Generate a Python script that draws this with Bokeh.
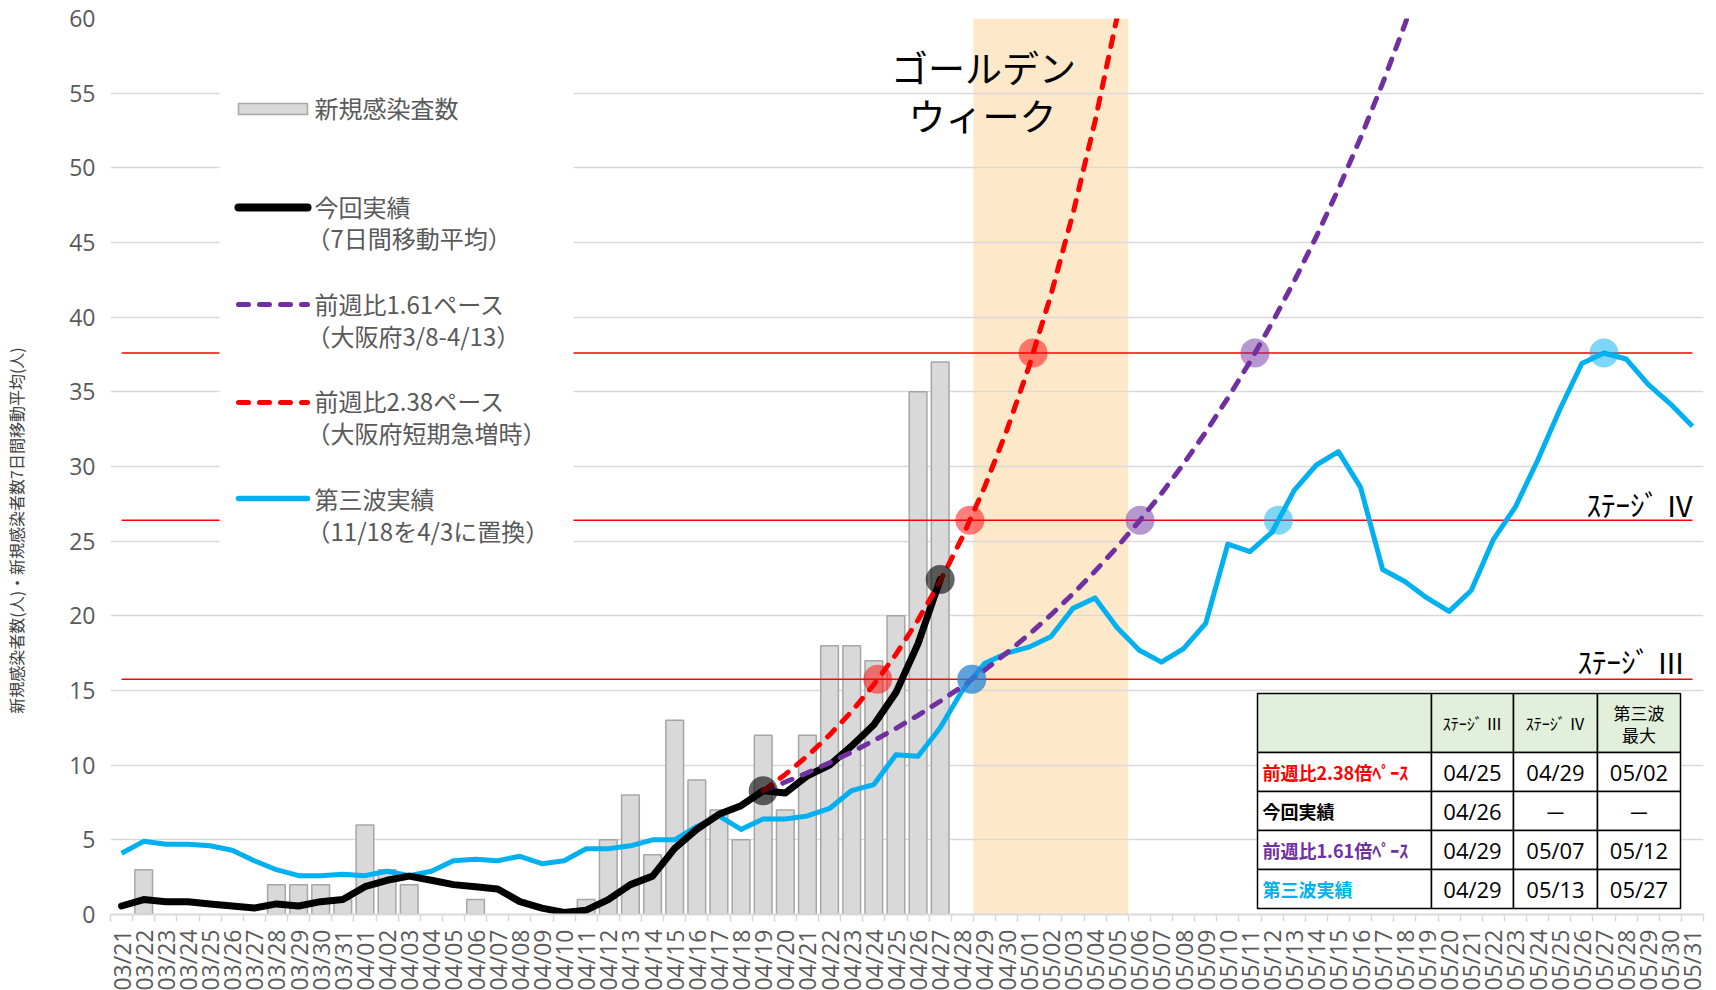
import numpy as np
from math import pi
from bokeh.plotting import figure
from bokeh.models import FixedTicker, Range1d, Label
from bokeh.embed import file_html
from bokeh.resources import INLINE

# ---------------- data ----------------
dates = ([f"03/{d:02d}" for d in range(21, 32)]
         + [f"04/{d:02d}" for d in range(1, 31)]
         + [f"05/{d:02d}" for d in range(1, 32)])

# daily new cases 03/21 .. 04/27
new_cases = [0, 3, 0, 0, 0, 0, 0, 2, 2, 2, 1, 6, 3, 2, 0, 0, 1, 0, 0, 0,
             0, 1, 5, 8, 4, 13, 9, 7, 5, 12, 7, 12, 18, 18, 17, 20, 35, 37]

# 7-day moving average (今回実績) 03/21 .. 04/27
current_avg = [0.57, 1.00, 0.86, 0.86, 0.71, 0.57, 0.43, 0.71, 0.57, 0.86,
               1.00, 1.86, 2.29, 2.57, 2.29, 2.00, 1.86, 1.71, 0.86, 0.43,
               0.14, 0.29, 1.00, 2.00, 2.57, 4.43, 5.71, 6.71, 7.29, 8.29,
               8.14, 9.29, 10.00, 11.29, 12.71, 14.86, 18.14, 22.43]

# projection 前週比2.38 from 04/19 .. 05/06
pace_238_start = "04/19"
pace_238 = [8.29, 9.38, 10.62, 12.02, 13.60, 15.39, 17.42, 19.72, 22.32,
            25.26, 28.60, 32.37, 36.63, 41.47, 46.93, 53.12, 60.13, 68.06]

# projection 前週比1.61 from 04/19 .. 05/19
pace_161_start = "04/19"
pace_161 = [8.29, 8.87, 9.49, 10.16, 10.88, 11.64, 12.46, 13.34, 14.28, 15.28,
            16.36, 17.51, 18.74, 20.06, 21.48, 22.99, 24.61, 26.34, 28.19, 30.18,
            32.30, 34.58, 37.01, 39.62, 42.41, 45.39, 48.59, 52.01, 55.67, 59.59,
            63.78]

# third wave (shifted) 03/21 .. 05/31
third_wave = [4.1, 4.9, 4.7, 4.7, 4.6, 4.3, 3.6, 3.0, 2.6, 2.6,
              2.7, 2.6, 2.9, 2.6, 2.9, 3.6, 3.7, 3.6, 3.9, 3.4,
              3.6, 4.4, 4.4, 4.6, 5.0, 5.0, 5.9, 6.6, 5.7, 6.4,
              6.4, 6.6, 7.1, 8.3, 8.7, 10.7, 10.6, 12.5, 15.0, 16.8,
              17.5, 17.9, 18.6, 20.5, 21.2, 19.2, 17.7, 16.9, 17.8, 19.5,
              24.8, 24.3, 25.6, 28.4, 30.1, 31.0, 28.6, 23.1, 22.3, 21.2,
              20.3, 21.7, 25.1, 27.3, 30.4, 33.8, 36.9, 37.6, 37.2, 35.5,
              34.2, 32.7]

thresholds = [15.75, 26.4, 37.6]          # ステージⅢ, ステージⅣ, 第三波最大
stage_names = ["ｽﾃｰｼﾞ Ⅲ", "ｽﾃｰｼﾞ Ⅳ"]
gw_start, gw_end = "04/29", "05/05"
black_marker_dates = ["04/19", "04/27"]

tbl_header = ["", "ｽﾃｰｼﾞ Ⅲ", "ｽﾃｰｼﾞ Ⅳ", "第三波\n最大"]
tbl_rows = ["前週比2.38倍ﾍﾟｰｽ", "今回実績", "前週比1.61倍ﾍﾟｰｽ", "第三波実績"]
tbl_colors = ["#FF0000", "#000000", "#7030A0", "#00B0F0"]
tbl_stage3 = ["04/25", "04/26", "04/29", "04/29"]
tbl_stage4 = ["04/29", "－", "05/07", "05/13"]
tbl_max = ["05/02", "－", "05/12", "05/27"]

y_title = "新規感染者数(人)・新規感染者数7日間移動平均(人)"

# ---------------- geometry ----------------
FL, FR, FT, FB = 110, 1703, 18, 914      # frame edges in page pixels
N = len(dates)
YMAX = 60


def dx(px):
    return -0.5 + (px - FL) / (FR - FL) * N


def dy(py):
    return (FB - py) / (FB - FT) * YMAX


idx = {d: i for i, d in enumerate(dates)}
xs_all = list(range(N))

JP = "Noto Sans CJK JP"
NUM = "Open Sans"
GRAY = "#595959"

p = figure(frame_width=FR - FL, frame_height=FB - FT,
           min_border_left=FL, min_border_right=10,
           min_border_top=FT, min_border_bottom=74,
           x_range=Range1d(-0.5, N - 0.5), y_range=Range1d(0, YMAX),
           output_backend="svg", toolbar_location=None)
p.outline_line_color = None
p.background_fill_color = "white"
p.border_fill_color = "white"

# axes
yt = list(range(0, 61, 5))
p.yaxis.ticker = FixedTicker(ticks=yt)
p.ygrid.ticker = FixedTicker(ticks=yt)
p.ygrid.grid_line_color = "#D9D9D9"
p.ygrid.grid_line_width = 1.5
p.xgrid.grid_line_color = None
p.yaxis.axis_line_color = None
p.yaxis.major_tick_line_color = None
p.yaxis.minor_tick_line_color = None
p.yaxis.major_tick_out = 0
p.yaxis.major_label_text_font = NUM
p.yaxis.major_label_text_font_size = "23px"
p.yaxis.major_label_text_color = GRAY
p.yaxis.major_label_standoff = 15
p.yaxis.axis_label = y_title + "　" * 8
p.yaxis.axis_label_text_font = JP
p.yaxis.axis_label_text_font_size = "16px"
p.yaxis.axis_label_text_font_style = "normal"
p.yaxis.axis_label_text_color = "#404040"
p.yaxis.axis_label_standoff = 38

p.xaxis.ticker = FixedTicker(ticks=xs_all, minor_ticks=[i - 0.5 for i in range(N + 1)])
p.xaxis.major_label_overrides = {i: d for i, d in enumerate(dates)}
p.xaxis.major_label_orientation = pi / 2
p.xaxis.major_label_text_font = NUM
p.xaxis.major_label_text_font_size = "23px"
p.xaxis.major_label_text_color = GRAY
p.xaxis.major_label_standoff = 8
p.xaxis.major_tick_out = 0
p.xaxis.major_tick_in = 0
p.xaxis.major_tick_line_color = None
p.xaxis.minor_tick_out = 7
p.xaxis.minor_tick_in = 0
p.xaxis.minor_tick_line_color = "#D9D9D9"
p.xaxis.minor_tick_line_width = 1.5
p.xaxis.axis_line_color = "#D9D9D9"
p.xaxis.axis_line_width = 2

# golden week band
p.quad(left=[idx[gw_start] - 0.5], right=[idx[gw_end] + 0.5], bottom=[0], top=[YMAX],
       fill_color="#FDE9C9", line_color=None, level="image")

# bars
bx = [i for i, v in enumerate(new_cases) if v > 0]
bt = [v for v in new_cases if v > 0]
p.vbar(x=bx, top=bt, width=0.8, fill_color="#D9D9D9", line_color="#A6A6A6", line_width=1.5)

# stage lines
for th in thresholds:
    p.line([xs_all[0], xs_all[-1]], [th, th], line_color="#FF0000", line_width=1.5)

# legend box (covers grid / stage lines)
p.quad(left=[dx(219)], right=[dx(573)], top=[dy(58)], bottom=[dy(560)],
       fill_color="white", line_color=None)

DASH = "10 11"
# legend swatches
LX0, LX1 = 238, 307
p.quad(left=[dx(LX0)], right=[dx(LX1)], top=[dy(103)], bottom=[dy(114)],
       fill_color="#D9D9D9", line_color="#A6A6A6", line_width=1.5)
p.line([dx(LX0), dx(LX1)], [dy(207)] * 2, line_color="black", line_width=8, line_cap="round")
p.line([dx(LX0), dx(LX1)], [dy(304)] * 2, line_color="#7030A0", line_width=5,
       line_dash=DASH, line_cap="round")
p.line([dx(LX0), dx(LX1)], [dy(402)] * 2, line_color="#FF0000", line_width=5,
       line_dash=DASH, line_cap="round")
p.line([dx(LX0), dx(LX1)], [dy(498)] * 2, line_color="#00B0F0", line_width=5.5, line_cap="round")

# series lines
p.line(xs_all, third_wave, line_color="#00B0F0", line_width=5, line_join="round")
p.line(list(range(len(current_avg))), current_avg, line_color="black", line_width=7,
       line_join="round", line_cap="round")
s161 = idx[pace_161_start]
x161 = list(range(s161, s161 + len(pace_161)))
p.line(x161, pace_161, line_color="#7030A0", line_width=5, line_dash=DASH, line_cap="round")
s238 = idx[pace_238_start]
x238 = list(range(s238, s238 + len(pace_238)))
p.line(x238, pace_238, line_color="#FF0000", line_width=5, line_dash=DASH, line_cap="round")


def crossing(xs, ys, th):
    for k in range(1, len(ys)):
        if ys[k] >= th > ys[k - 1]:
            return xs[k - 1] + (th - ys[k - 1]) / (ys[k] - ys[k - 1]) * (xs[k] - xs[k - 1])
    return None


MS = 29
for xs, ys, col in [(x238, pace_238, "#FF0000"), (x161, pace_161, "#7030A0"),
                    (xs_all, third_wave, "#00B0F0")]:
    mx = [crossing(xs, ys, th) for th in thresholds]
    p.scatter(mx, thresholds, marker="circle", size=MS, fill_color=col, fill_alpha=0.5,
              line_color=None)
bmx = [idx[d] for d in black_marker_dates]
p.scatter(bmx, [current_avg[i] for i in bmx], marker="circle", size=MS, fill_color="black",
          fill_alpha=0.6, line_color=None)

# table
tx = [1257, 1431, 1513, 1597, 1680]
ty = [693, 752, 791, 830, 869, 908]
ql, qr, qt, qb, qf = [], [], [], [], []
for r in range(5):
    for c in range(4):
        ql.append(dx(tx[c])); qr.append(dx(tx[c + 1]))
        qt.append(dy(ty[r])); qb.append(dy(ty[r + 1]))
        qf.append("#E2EFDA" if r == 0 else "white")
p.quad(left=ql, right=qr, top=qt, bottom=qb, fill_color=qf, line_color="black", line_width=1.5)


def lab(px, py, text, size, color, font=JP, align="left", style="normal", angle=0.0):
    p.add_layout(Label(x=dx(px), y=dy(py), text=text, text_font=font,
                       text_font_size=f"{size}px", text_color=color, text_align=align,
                       text_baseline="middle", text_font_style=style, angle=angle))


# table texts
hy = (ty[0] + ty[1]) / 2
for c in range(1, 4):
    cx = (tx[c] + tx[c + 1]) / 2
    lines = tbl_header[c].split("\n")
    if len(lines) == 1:
        lab(cx, hy, lines[0], 16, "black", align="center")
    else:
        lab(cx, hy - 11, lines[0], 17, "black", align="center")
        lab(cx, hy + 11, lines[1], 17, "black", align="center")
for r in range(4):
    cy = (ty[r + 1] + ty[r + 2]) / 2
    lab(tx[0] + 5, cy, tbl_rows[r], 18, tbl_colors[r], style="bold")
    for c, col in enumerate([tbl_stage3, tbl_stage4, tbl_max]):
        cx = (tx[c + 1] + tx[c + 2]) / 2
        txt = col[r]
        lab(cx, cy, txt, 22, "black", font=(NUM if "/" in txt else JP), align="center")

# legend texts
LT = 314
LT2 = 306
LS = 24
lab(LT, 107, "新規感染査数", LS, GRAY)
lab(LT, 206, "今回実績", LS, GRAY)
lab(LT2, 237, "（7日間移動平均）", LS, GRAY)
lab(LT, 303, "前週比1.61ペース", LS, GRAY)
lab(LT2, 335, "（大阪府3/8-4/13）", LS, GRAY)
lab(LT, 400, "前週比2.38ペース", LS, GRAY)
lab(LT2, 432, "（大阪府短期急増時）", LS, GRAY)
lab(LT, 498, "第三波実績", LS, GRAY)
lab(LT2, 530, "（11/18を4/3に置換）", LS, GRAY)

# golden week title
lab(983, 66, "ゴールデン", 37, "black", align="center")
lab(982, 114, "ウィーク", 37, "black", align="center")

# stage labels
lab(1694, 503, stage_names[1], 29, "black", align="right")
lab(1685, 660, stage_names[0], 29, "black", align="right")

open("out.html", "w").write(file_html(p, INLINE))
